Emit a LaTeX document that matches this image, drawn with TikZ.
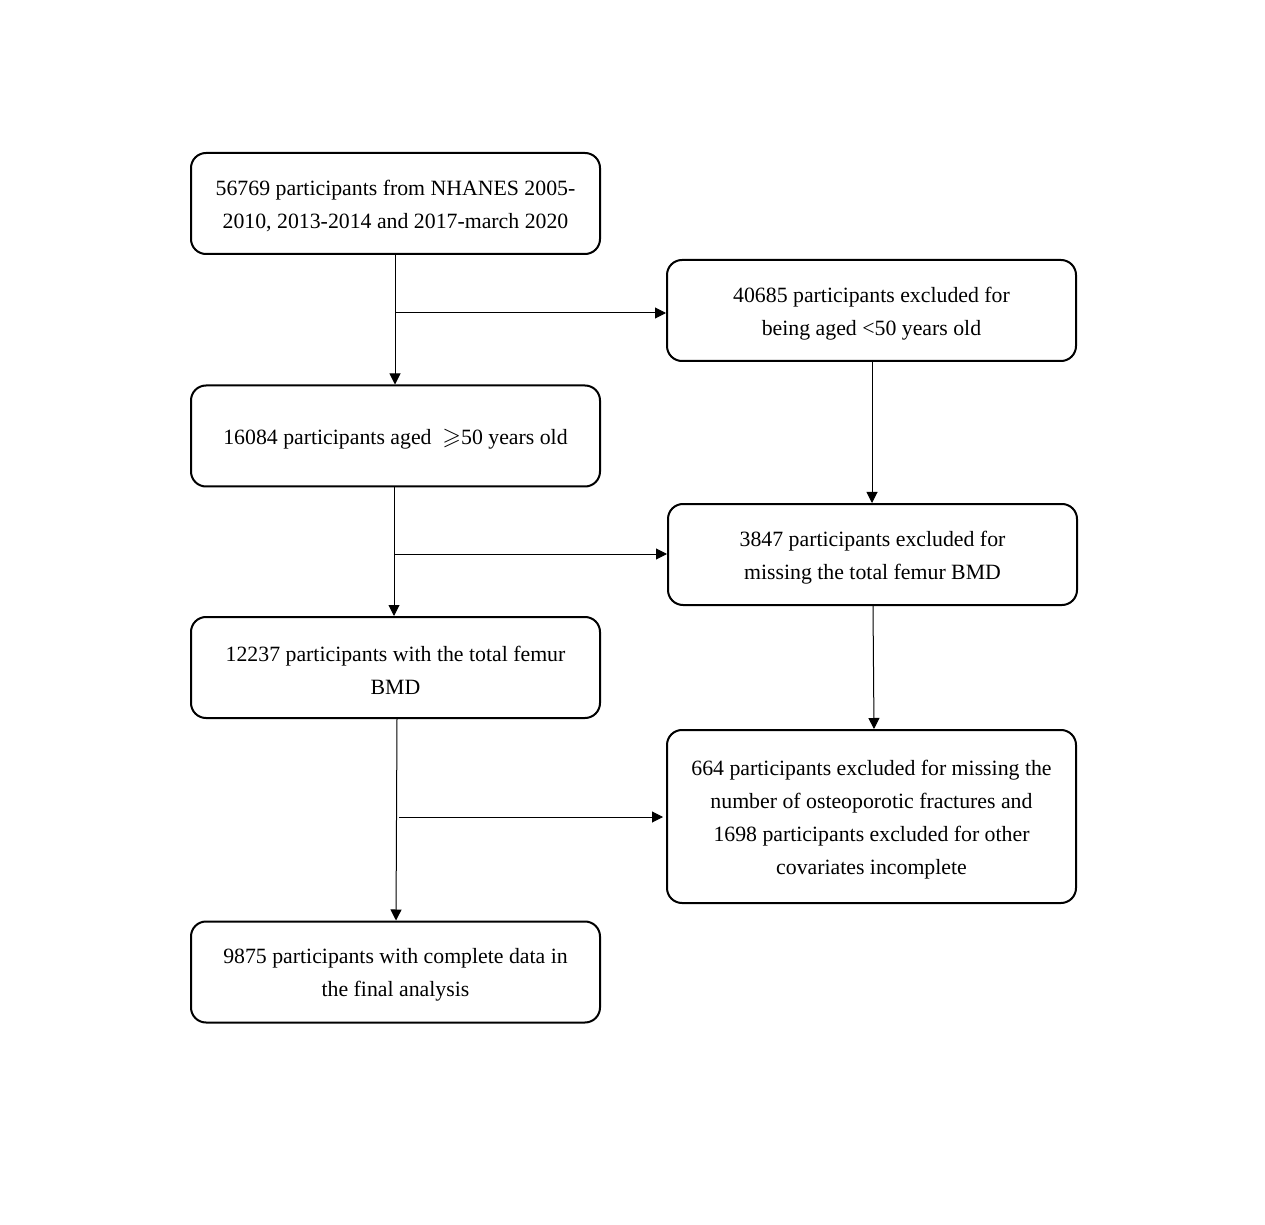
\documentclass[tikz,border=0pt]{standalone}
\usepackage{fontspec}
\usepackage{amssymb}
\setmainfont{Liberation Serif}
\usetikzlibrary{arrows.meta,calc}
\begin{document}
\begin{tikzpicture}[x=0.5pt,y=-0.5pt,
  box/.style={draw=black,line width=1pt,rounded corners=7.5pt,minimum width=204.5pt,minimum height=50.5pt,inner sep=0pt},
  txt/.style={align=center,inner sep=0pt,yshift=-1.5pt,font=\fontsize{10.9pt}{16.5pt}\selectfont},
  conn/.style={line width=0.5pt,-{Triangle[length=5.5pt,width=5.5pt]}}]
\useasboundingbox (0,0) rectangle (1265,1225);
\node[box,label={[txt]center:{56769 participants from NHANES 2005-\\2010, 2013-2014 and 2017-march 2020}}] (b1) at (395.5,203.5) {};
\node[box,label={[txt]center:{40685 participants excluded for\\being aged <50 years old}}] (b2) at (871.5,310.5) {};
\node[box,label={[txt]center:{16084 participants aged\hspace{0.5em}{\large$\geqslant$}50 years old}}] (b3) at (395.5,436) {};
\node[box,label={[txt]center:{3847 participants excluded for\\missing the total femur BMD}}] (b4) at (872.5,554.5) {};
\node[box,label={[txt]center:{12237 participants with the total femur\\BMD}}] (b5) at (395.5,667.5) {};
\node[box,minimum height=86.5pt,label={[txt]center:{664 participants excluded for missing the\\number of osteoporotic fractures and\\1698 participants excluded for other\\covariates incomplete}}] (b6) at (871.5,816.5) {};
\node[box,label={[txt]center:{9875 participants with complete data in\\the final analysis}}] (b7) at (395.5,972) {};
\coordinate (j1) at (395,313);
\coordinate (j2) at (394,554);
\coordinate (j3) at (399,817);
\draw[conn] (b1.south -| j1) -- (b3.north -| j1);
\draw[conn] (j1) -- (j1 -| b2.west);
\draw[conn] (b2.south -| 872,0) -- (b4.north -| 872,0);
\draw[conn] (b3.south -| j2) -- (b5.north -| j2);
\draw[conn] (j2) -- (j2 -| b4.west);
\draw[conn] ($(b4.south)+(0.5,0)$) -- ($(b6.north)+(2.5,0)$);
\draw[conn] ($(b5.south)+(1.5,0)$) -- ($(b7.north)+(0.5,0)$);
\draw[conn] (j3) -- ($(j3 -| b6.west)+(-3,0)$);
\end{tikzpicture}
\end{document}
